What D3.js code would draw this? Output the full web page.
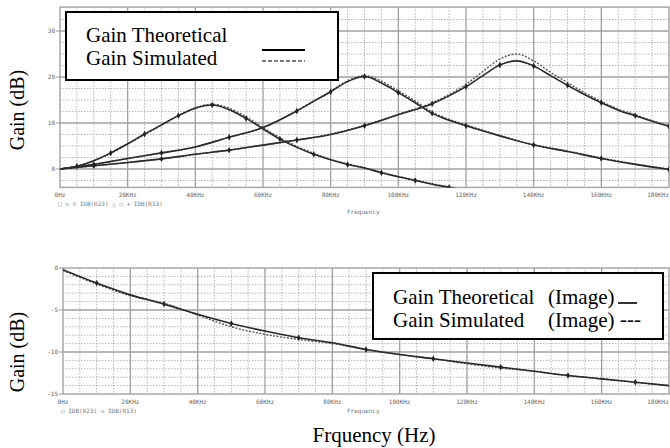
<!DOCTYPE html>
<html>
<head>
<meta charset="utf-8">
<script src="https://cdn.jsdelivr.net/npm/d3@7"></script>
<style>
  body { margin: 0; background: #fff; }
  svg { display: block; }
</style>
</head>
<body>
<div id="chart"></div>
<script>
// frequencies in KHz, gains in dB

// top plot: three band-pass curves
const freq1 = [0, 5, 10, 15, 20, 25, 30, 35, 40, 45, 50, 55, 60, 65, 70, 75, 80, 85, 90, 95, 100, 105, 110, 115, 120];
const theo1 = [0, 0.6, 1.8, 3.5, 5.5, 7.6, 9.6, 11.6, 13.2, 13.9, 12.9, 11.0, 8.7, 6.5, 4.7, 3.2, 2.0, 1.0, 0.2, -0.8, -1.7, -2.5, -3.3, -4.0, -4.7];
const sim1  = [0, 0.6, 1.8, 3.4, 5.4, 7.5, 9.5, 11.6, 13.3, 14.1, 13.2, 11.4, 9.0, 6.8, 4.9, 3.4, 2.1, 1.1, 0.3, -0.7, -1.6, -2.4, -3.2, -3.9, -4.6];

const freq2 = [0, 10, 20, 30, 40, 50, 60, 70, 75, 80, 85, 90, 95, 100, 105, 110, 115, 120, 130, 140, 150, 160, 170, 180];
const theo2 = [0, 1.0, 2.3, 3.5, 4.8, 6.9, 9.0, 12.6, 14.7, 16.8, 19.0, 20.1, 18.7, 16.6, 14.4, 12.1, 10.6, 9.4, 7.2, 5.2, 3.8, 2.3, 1.0, -0.1];
const sim2  = [0, 1.0, 2.3, 3.5, 4.8, 6.9, 9.0, 12.7, 14.8, 16.9, 19.2, 20.3, 19.1, 17.0, 14.8, 12.4, 10.8, 9.6, 7.3, 5.3, 3.9, 2.4, 1.1, 0.0];

const freq3 = [0, 10, 20, 30, 40, 50, 60, 70, 80, 90, 100, 110, 115, 120, 125, 130, 135, 140, 145, 150, 155, 160, 165, 170, 175, 180];
const theo3 = [0, 0.7, 1.4, 2.2, 3.2, 4.1, 5.2, 6.3, 7.5, 9.4, 11.8, 14.2, 15.9, 17.9, 20.3, 22.6, 23.5, 22.4, 20.3, 18.2, 16.2, 14.4, 12.8, 11.6, 10.4, 9.3];
const sim3  = [0, 0.7, 1.4, 2.2, 3.2, 4.1, 5.2, 6.3, 7.6, 9.5, 11.9, 14.4, 16.2, 18.4, 21.2, 23.9, 25.0, 23.5, 21.0, 18.8, 16.6, 14.7, 13.0, 11.8, 10.5, 9.4];

// bottom plot: image gain
const freqImg = [0, 10, 20, 30, 40, 50, 60, 70, 80, 90, 100, 110, 120, 130, 140, 150, 160, 170, 180];
const theoImg = [-0.2, -1.8, -3.2, -4.3, -5.5, -6.6, -7.5, -8.3, -8.9, -9.7, -10.3, -10.8, -11.3, -11.8, -12.3, -12.8, -13.2, -13.6, -14.0];
const simImg  = [-0.3, -1.9, -3.3, -4.2, -5.6, -7.0, -7.9, -8.5, -9.0, -9.7, -10.3, -10.8, -11.4, -11.9, -12.3, -12.8, -13.2, -13.6, -14.0];

const xTickLabels = ["0Hz", "20KHz", "40KHz", "60KHz", "80KHz", "100KHz", "120KHz", "140KHz", "160KHz", "180KHz"];
const yTicksTop = [0, 10, 20, 30];
const yTicksBot = [0, -5, -10, -15];

const width = 670, height = 448;

const serif = "'Liberation Serif', 'Times New Roman', 'DejaVu Serif', serif";
const mono = "'DejaVu Sans Mono', monospace";

const svg = d3.select("#chart")
    .append("svg")
    .attr("width", width)
    .attr("height", height);

function drawPanel(opt) {
    const x = opt.x, y = opt.y;
    const g = svg.append("g");
    const [x0, x1] = x.range();
    const [yb, yt] = y.range();

    // minor grid (dotted)
    g.selectAll(".vminor")
        .data(d3.range(5, 180, 5).filter(d => d % 20 != 0))
        .join("line")
        .attr("x1", d => x(d)).attr("x2", d => x(d))
        .attr("y1", yt).attr("y2", yb)
        .attr("stroke", "#b5b5b5").attr("stroke-width", 1)
        .attr("stroke-dasharray", "1.5,1.5");
    g.selectAll(".hminor")
        .data(opt.minorY)
        .join("line")
        .attr("x1", x0).attr("x2", x1)
        .attr("y1", d => y(d)).attr("y2", d => y(d))
        .attr("stroke", "#b5b5b5").attr("stroke-width", 1)
        .attr("stroke-dasharray", "1.5,1.5");

    // major grid
    g.selectAll(".vmajor")
        .data(d3.range(20, 180, 20))
        .join("line")
        .attr("x1", d => x(d)).attr("x2", d => x(d))
        .attr("y1", yt).attr("y2", yb)
        .attr("stroke", "#a0a0a0").attr("stroke-width", 1.3);
    g.selectAll(".hmajor")
        .data(opt.majorY)
        .join("line")
        .attr("x1", x0).attr("x2", x1)
        .attr("y1", d => y(d)).attr("y2", d => y(d))
        .attr("stroke", "#a0a0a0").attr("stroke-width", 1.3);

    // frame
    g.append("rect")
        .attr("x", x0).attr("y", yt)
        .attr("width", x1 - x0).attr("height", yb - yt)
        .attr("fill", "none").attr("stroke", "#a8a8a8").attr("stroke-width", 1.5);

    // y tick labels + tick marks
    g.selectAll(".ytl")
        .data(opt.yTicks)
        .join("text")
        .attr("x", x0 - 5).attr("y", d => y(d) + 2)
        .attr("text-anchor", "end")
        .attr("font-family", mono).attr("font-size", 6)
        .attr("fill", "#666")
        .text(d => d);
    g.selectAll(".ytm")
        .data(opt.yTicks)
        .join("line")
        .attr("x1", x0 - 4).attr("x2", x0)
        .attr("y1", d => y(d)).attr("y2", d => y(d))
        .attr("stroke", "#999");

    // x tick labels
    g.selectAll(".xtl")
        .data(xTickLabels)
        .join("text")
        .attr("x", (d, i) => Math.min(x(i * 20), width - 12))
        .attr("y", yb + 10)
        .attr("text-anchor", "middle")
        .attr("font-family", mono).attr("font-size", 6)
        .attr("fill", "#666")
        .text(d => d);

    g.append("text")
        .attr("x", x0 - 2).attr("y", yb + 19)
        .attr("font-family", mono).attr("font-size", 6)
        .attr("fill", "#777")
        .text(opt.traceLabel);

    g.append("text")
        .attr("x", 347).attr("y", yb + opt.freqDy)
        .attr("font-family", mono).attr("font-size", 6)
        .attr("fill", "#777")
        .text("Frequency");

    // curves
    const clipId = opt.id + "-clip";
    svg.append("clipPath").attr("id", clipId)
        .append("rect")
        .attr("x", x0).attr("y", yt)
        .attr("width", x1 - x0).attr("height", yb - yt);

    const line = d3.line()
        .x(d => x(d[0]))
        .y(d => y(d[1]))
        .curve(d3.curveMonotoneX);

    const cg = g.append("g").attr("clip-path", `url(#${clipId})`);

    opt.series.forEach(s => {
        const simPts = d3.zip(s.f, s.sim);
        const theoPts = d3.zip(s.f, s.theo);
        cg.append("path")
            .datum(simPts)
            .attr("d", line)
            .attr("fill", "none")
            .attr("stroke", "#555")
            .attr("stroke-width", 1.4)
            .attr("stroke-dasharray", "2,1.5");
        cg.append("path")
            .datum(theoPts)
            .attr("d", line)
            .attr("fill", "none")
            .attr("stroke", "#2a2a2a")
            .attr("stroke-width", 1.6);
        // PSpice trace markers on every other point
        cg.selectAll(null)
            .data(theoPts.filter((d, i) => i % 2 == 1))
            .join("path")
            .attr("transform", d => `translate(${x(d[0])},${y(d[1])})`)
            .attr("d", d3.symbol(d3.symbolDiamond, 12))
            .attr("fill", "#222");
    });
}

const xTop = d3.scaleLinear().domain([0, 180]).range([60, 669]);
const yTop = d3.scaleLinear().domain([-4, 35.2]).range([187.4, 7.1]);

drawPanel({
    id: "top", x: xTop, y: yTop,
    yTicks: yTicksTop,
    majorY: [0, 10, 20, 30],
    minorY: [-2.5, 2.5, 5, 7.5, 12.5, 15, 17.5, 22.5, 25, 27.5, 32.5],
    traceLabel: "\u25a1 \u25c7 \u25bd IDB(R23)  \u25b3 \u25cb + IDB(R13)",
    freqDy: 27,
    series: [
        { f: freq1, theo: theo1, sim: sim1 },
        { f: freq2, theo: theo2, sim: sim2 },
        { f: freq3, theo: theo3, sim: sim3 }
    ]
});

const xBot = d3.scaleLinear().domain([0, 180]).range([63, 669]);
const yBot = d3.scaleLinear().domain([-15, 0]).range([394, 268]);

drawPanel({
    id: "bot", x: xBot, y: yBot,
    yTicks: yTicksBot,
    majorY: [-5, -10],
    minorY: d3.range(-14, 0, 1).filter(d => d % 5 != 0),
    traceLabel: "\u25cb IDB(R23)  \u25c7 IDB(R13)",
    freqDy: 19,
    series: [
        { f: freqImg, theo: theoImg, sim: simImg }
    ]
});

// axis titles
function serifText(sel, size) {
    return sel.attr("font-family", serif).attr("font-size", size).attr("fill", "#000");
}
serifText(svg.append("text"), 20)
    .attr("transform", "translate(24,110) rotate(-90)")
    .attr("text-anchor", "middle")
    .text("Gain (dB)");
serifText(svg.append("text"), 20)
    .attr("transform", "translate(24,352) rotate(-90)")
    .attr("text-anchor", "middle")
    .text("Gain (dB)");
serifText(svg.append("text"), 21)
    .attr("x", 374).attr("y", 442)
    .attr("text-anchor", "middle")
    .text("Frquency (Hz)");

// legend, top
const lg1 = svg.append("g");
lg1.append("rect")
    .attr("x", 66).attr("y", 12).attr("width", 272).attr("height", 68)
    .attr("fill", "#fff").attr("stroke", "#000").attr("stroke-width", 2);
serifText(lg1.append("text"), 21).attr("x", 86).attr("y", 42).text("Gain Theoretical");
serifText(lg1.append("text"), 21).attr("x", 86).attr("y", 65).text("Gain Simulated");
lg1.append("line").attr("x1", 262).attr("x2", 305).attr("y1", 50).attr("y2", 50)
    .attr("stroke", "#000").attr("stroke-width", 2);
lg1.append("line").attr("x1", 262).attr("x2", 305).attr("y1", 61).attr("y2", 61)
    .attr("stroke", "#000").attr("stroke-width", 1.2).attr("stroke-dasharray", "4,2");

// legend, bottom
const lg2 = svg.append("g");
lg2.append("rect")
    .attr("x", 373).attr("y", 273).attr("width", 290).attr("height", 66)
    .attr("fill", "#fff").attr("stroke", "#000").attr("stroke-width", 2);
serifText(lg2.append("text"), 21).attr("x", 393).attr("y", 304).text("Gain Theoretical");
serifText(lg2.append("text"), 21).attr("x", 548).attr("y", 304).text("(Image)");
lg2.append("line").attr("x1", 618).attr("x2", 637).attr("y1", 303).attr("y2", 303)
    .attr("stroke", "#000").attr("stroke-width", 1.6);
serifText(lg2.append("text"), 21).attr("x", 393).attr("y", 327).text("Gain Simulated");
serifText(lg2.append("text"), 21).attr("x", 548).attr("y", 327).text("(Image)");
serifText(lg2.append("text"), 21).attr("x", 620).attr("y", 326).text("---");
</script>
</body>
</html>
